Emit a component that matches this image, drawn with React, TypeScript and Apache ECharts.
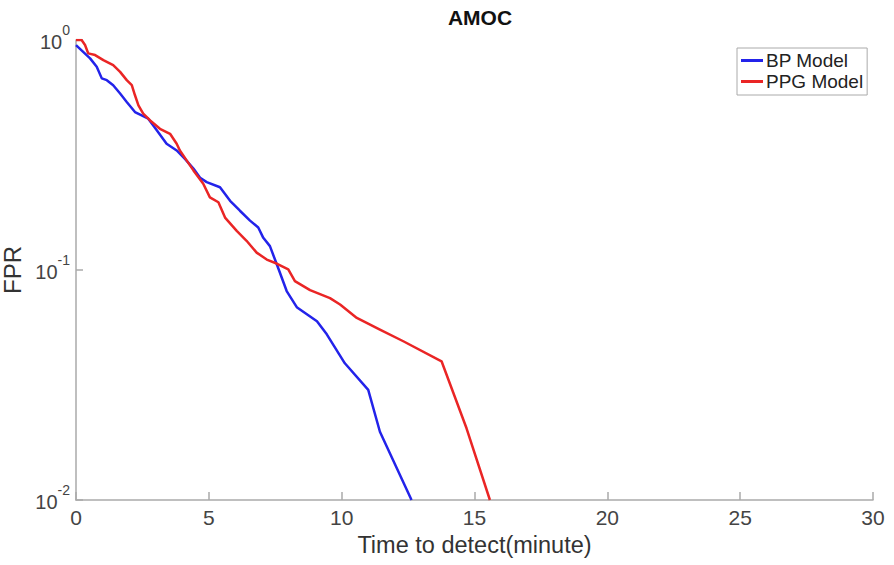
import React, { useEffect, useRef } from "react";
import * as echarts from "echarts";

const titleText = "AMOC";
const xAxisName = "Time to detect(minute)";
const yAxisName = "FPR";
const seriesNames = ["BP Model", "PPG Model"];

const bpTime = [0, 0.53, 0.78, 0.97, 1.16, 1.4, 1.66, 1.91, 2.22, 2.47, 2.72, 3.04, 3.41, 3.79, 4.1, 4.42, 4.67, 4.92, 5.42, 5.8, 6.17, 6.55, 6.86, 7.05, 7.3, 7.61, 7.93, 8.31, 9.07, 9.44, 10.12, 11.0, 11.44, 12.63];
const bpFpr = [0.95, 0.832, 0.765, 0.681, 0.669, 0.636, 0.585, 0.538, 0.486, 0.47, 0.455, 0.405, 0.354, 0.331, 0.304, 0.276, 0.252, 0.241, 0.229, 0.2, 0.181, 0.164, 0.153, 0.138, 0.127, 0.102, 0.081, 0.0689, 0.0599, 0.0525, 0.0393, 0.0301, 0.0198, 0.01];

const ppgTime = [0, 0.21, 0.34, 0.46, 0.72, 1.03, 1.4, 1.66, 1.91, 2.1, 2.22, 2.35, 2.53, 2.79, 3.16, 3.54, 3.79, 3.91, 4.17, 4.42, 4.79, 5.04, 5.36, 5.61, 6.05, 6.42, 6.8, 7.18, 7.55, 7.99, 8.24, 8.81, 9.56, 9.94, 10.57, 11.44, 12.32, 13.76, 14.7, 15.58];
const ppgFpr = [1.0, 1.0, 0.951, 0.875, 0.86, 0.818, 0.778, 0.727, 0.669, 0.636, 0.575, 0.52, 0.479, 0.447, 0.411, 0.391, 0.354, 0.331, 0.299, 0.271, 0.237, 0.207, 0.197, 0.169, 0.148, 0.134, 0.119, 0.111, 0.1067, 0.1007, 0.0895, 0.0818, 0.0755, 0.0708, 0.0619, 0.0551, 0.049, 0.0401, 0.0205, 0.01];

const xTicks = { min: 0, max: 30, interval: 5 };
const yRange = { min: 0.01, max: 1 };

const FONT = "'Liberation Sans', Arial, Helvetica, sans-serif";

export default function App() {
  const ref = useRef<HTMLDivElement>(null);
  useEffect(() => {
    document.body.style.margin = "0";
    if (!ref.current) return;
    const chart = echarts.init(ref.current, undefined, { renderer: "svg" });
    const bpData = bpTime.map((t, i) => [t, bpFpr[i]]);
    const ppgData = ppgTime.map((t, i) => [t, ppgFpr[i]]);
    chart.setOption({
      animation: false,
      backgroundColor: "#ffffff",
      textStyle: { fontFamily: FONT },
      title: {
        text: titleText,
        left: 475,
        textAlign: "center",
        top: 2,
        textStyle: { fontFamily: FONT, fontSize: 21, fontWeight: "bold", color: "#111" },
      },
      legend: {
        left: 737,
        top: 48,
        orient: "vertical",
        padding: [3, 4, 4, 4],
        itemGap: 2,
        itemWidth: 22,
        itemHeight: 3,
        borderColor: "#aaaaaa",
        borderWidth: 1,
        textStyle: { fontFamily: FONT, fontSize: 19, color: "#222", padding: [0, 0, 0, -2] },
        data: seriesNames.map((n) => ({ name: n, icon: "rect" })),
      },
      grid: { left: 76, right: 21, top: 40, bottom: 65, containLabel: false, outerBoundsMode: "none" },
      xAxis: {
        type: "value",
        min: xTicks.min,
        max: xTicks.max,
        interval: xTicks.interval,
        name: xAxisName,
        nameLocation: "middle",
        nameGap: 28,
        nameTextStyle: { fontFamily: FONT, fontSize: 23.5, color: "#333" },
        axisLine: { lineStyle: { color: "#aaaaaa", width: 1.5 } },
        axisTick: { inside: true, length: 8, lineStyle: { color: "#aaaaaa", width: 1.5 } },
        axisLabel: { fontFamily: FONT, fontSize: 21, color: "#444", margin: 7 },
        splitLine: { show: false },
      },
      yAxis: {
        type: "log",
        logBase: 10,
        min: yRange.min,
        max: yRange.max,
        name: yAxisName,
        nameLocation: "middle",
        nameRotate: 90,
        nameGap: 47,
        nameTextStyle: { fontFamily: FONT, fontSize: 24, color: "#333" },
        axisLine: { show: true, lineStyle: { color: "#aaaaaa", width: 1.5 } },
        axisTick: { inside: true, length: 7, lineStyle: { color: "#aaaaaa", width: 1.5 } },
        minorTick: { show: false },
        splitLine: { show: false },
        axisLabel: {
          margin: 6,
          formatter: (v: number) => `{b|10}{s|${Math.round(Math.log10(v))}}`,
          rich: {
            b: { fontFamily: FONT, fontSize: 20, color: "#444", lineHeight: 34, padding: [4, 0, 0, 0] },
            s: { fontFamily: FONT, fontSize: 14, color: "#444", lineHeight: 16, verticalAlign: "top" },
          },
        },
      },
      series: [
        {
          name: seriesNames[0],
          type: "line",
          data: bpData,
          symbol: "none",
          lineStyle: { color: "#2323ea", width: 2.5 },
          itemStyle: { color: "#2323ea" },
        },
        {
          name: seriesNames[1],
          type: "line",
          data: ppgData,
          symbol: "none",
          lineStyle: { color: "#ea2525", width: 2.5 },
          itemStyle: { color: "#ea2525" },
        },
      ],
    });
    return () => chart.dispose();
  }, []);
  return <div ref={ref} style={{ width: 894, height: 565 }} />;
}
